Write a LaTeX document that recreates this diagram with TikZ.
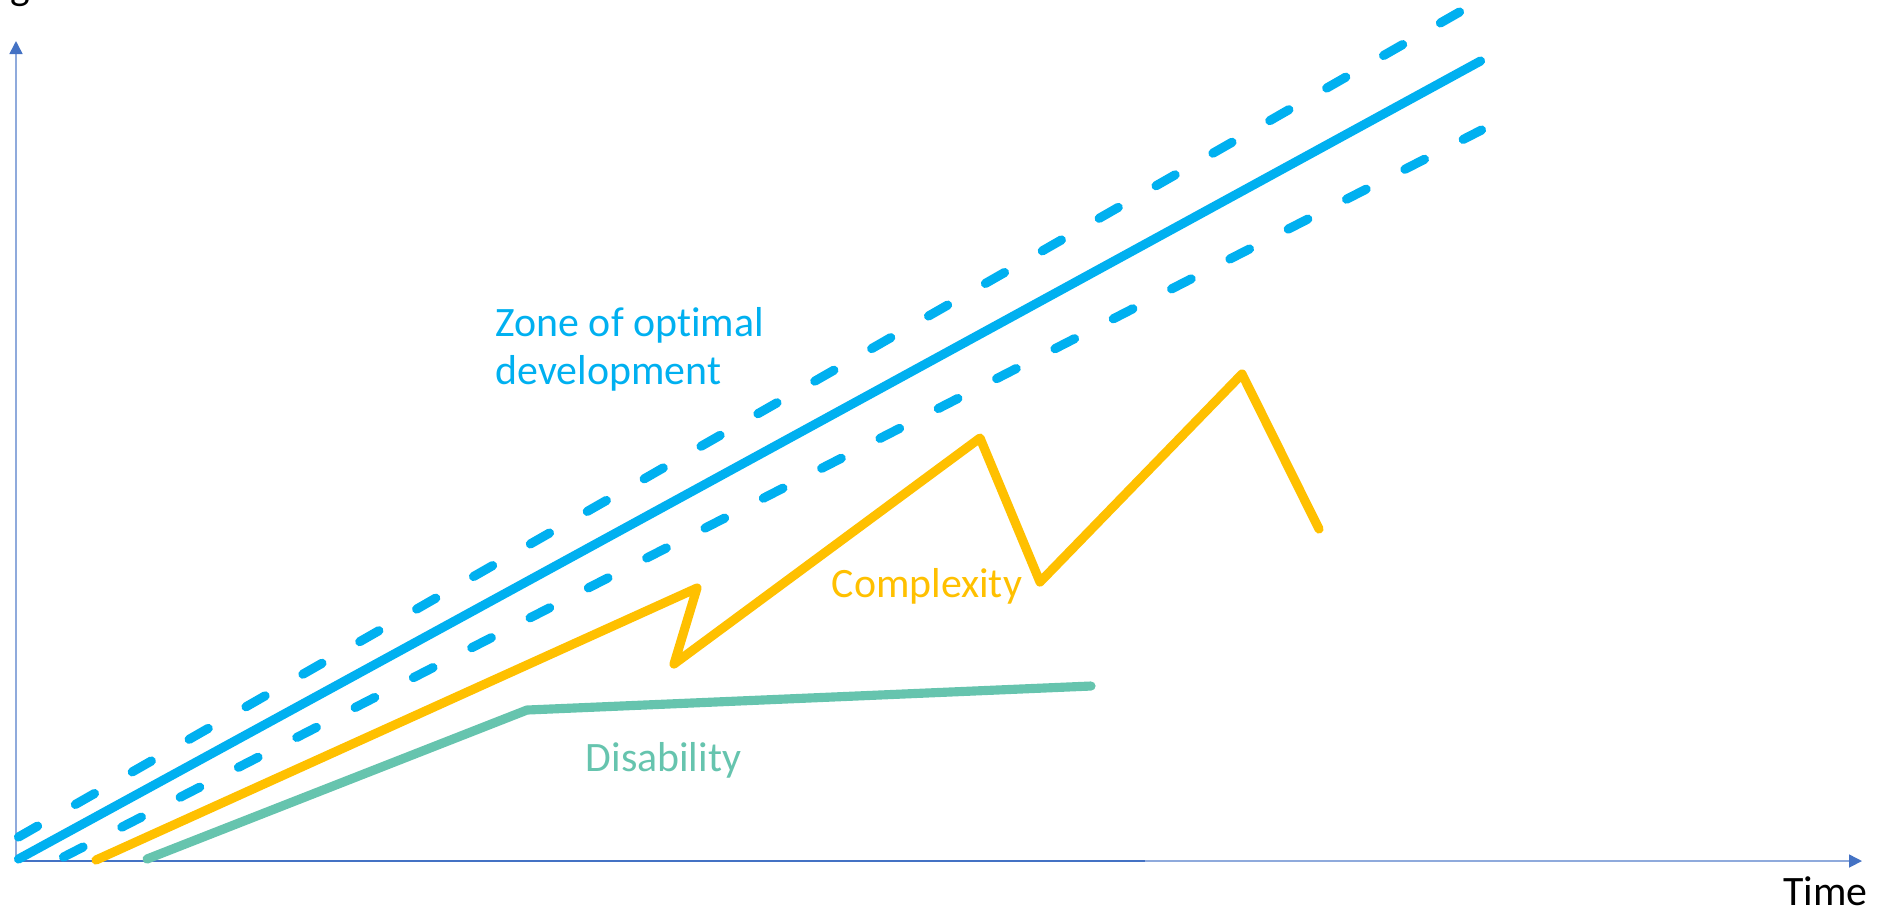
\documentclass[tikz,border=0pt]{standalone}
\usepackage{fontspec}
\setmainfont{Carlito}[Ligatures=NoCommon]
\usetikzlibrary{arrows.meta}
\definecolor{zoneblue}{RGB}{0,176,240}
\definecolor{cplxyellow}{RGB}{255,192,0}
\definecolor{disgreen}{RGB}{102,196,174}
\definecolor{axisblue}{RGB}{68,114,196}
\definecolor{axislight}{RGB}{143,170,220}
\tikzset{
  curve/.style={line width=2.6pt, line cap=round, line join=round},
  zonedash/.style={curve, zoneblue, dash pattern=on 0.22cm off 0.435cm},
  axisline/.style={line width=0.45pt, -{Triangle[length=0.13cm,width=0.13cm,color=axisblue]}},
  lbl/.style={font=\fontsize{11.9pt}{13.65pt}\selectfont, inner sep=0pt}
}
\begin{document}
\begin{tikzpicture}[x=0.01cm,y=-0.01cm]
        \useasboundingbox (0,0) rectangle (1883,920);

        % axes
        \draw[axisline, axislight] (16,861) -- (16,41);
        \draw[axisline, axislight] (16,861) -- (1862,861);
        \draw[axisblue, line width=0.6pt] (16,861) -- (1145,861);
        \node[lbl, anchor=base west] (ylabel) at (10,-1) {g};
        \node[lbl, anchor=base east] (time) at (1868,905) {Time};

        % zone of optimal development
        \draw[zonedash] (18.5,837) -- (1459.5,12);
        \draw[curve, zoneblue] (18.5,859) -- (1480.5,61);
        \draw[zonedash] (63.5,857) -- (1481.5,130);
        \node[lbl, zoneblue, anchor=base west, align=left] (zone) at (495,384) {Zone of optimal\\development};

        % complexity
        \draw[curve, cplxyellow] (96,860) -- (697,588) -- (674,664) -- (980,438)
            -- (1040,582) -- (1242,374) -- (1319,529);
        \node[lbl, cplxyellow, anchor=base west] (cplx) at (831,597) {Complexity};

        % disability
        \draw[curve, disgreen] (147,859) -- (527,710) -- (1091,686);
        \node[lbl, disgreen, anchor=base west] (dis) at (585,771) {Disability};

\end{tikzpicture}
\end{document}
